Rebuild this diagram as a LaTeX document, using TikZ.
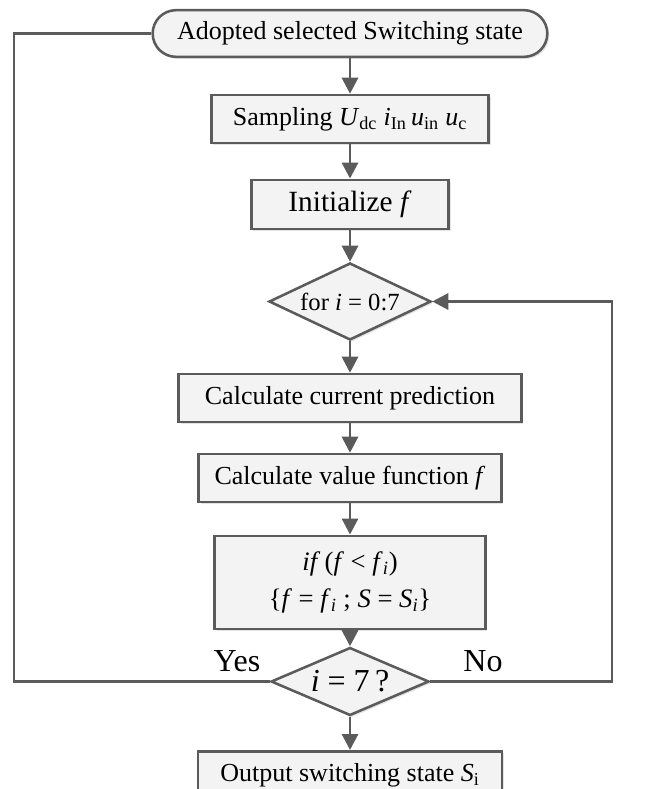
\documentclass[tikz,border=0pt]{standalone}
\usepackage{fontspec}
\setmainfont{Liberation Serif}
\usetikzlibrary{shapes.geometric,arrows.meta,shadows}
\definecolor{lc}{HTML}{5B5B5B}
\definecolor{bf}{HTML}{F3F3F3}
\begin{document}
\begin{tikzpicture}[x=0.75pt,y=-0.75pt,
  line/.style={draw=lc,line width=2.2pt},
  arr/.style={line,-{Triangle[width=12pt,length=12pt]}},
  boxst/.style={draw=lc,line width=1.9pt,fill=bf,inner sep=0pt,align=center,
    drop shadow={shadow xshift=1.5pt,shadow yshift=-1.5pt,opacity=0.22,fill=gray}},
  termst/.style={boxst,rounded corners=17.5pt},
  dmst/.style={boxst,shape=diamond},
  f20/.style={font=\fontsize{19.5}{23}\selectfont},
  lbl/.style={font=\fontsize{24}{28}\selectfont}]
\useasboundingbox (0,0) rectangle (648,789);
\clip (0,0) rectangle (648,789);

\node[termst,f20,minimum width=296pt,minimum height=35pt] (t) at (350,33.5) {Adopted selected Switching state};
\node[boxst,f20,minimum width=208pt,minimum height=36pt] (s) at (350,119)
  {Sampling \textit{U}\textsubscript{dc} \textit{i}\textsubscript{In}\,\textit{u}\textsubscript{in} \textit{u}\textsubscript{c}};
\node[boxst,font=\fontsize{22}{26}\selectfont,minimum width=148pt,minimum height=37pt] (i0) at (350,204.5) {Initialize \textit{f}};
\node[dmst,shape aspect=2.1,font=\fontsize{18.5}{22}\selectfont,minimum width=121.5pt,minimum height=57.75pt] (fd) at (350,301.5) {for \textit{i} = 0:7};
\node[boxst,f20,minimum width=257pt,minimum height=36pt] (cc) at (350,398) {Calculate current prediction};
\node[boxst,f20,minimum width=227pt,minimum height=36pt] (cv) at (350,478) {Calculate value function \textit{f}};
\node[boxst,font=\fontsize{20}{28}\selectfont,minimum width=203pt,minimum height=70pt] (ifb) at (350,582.5)
  {\textit{if}\,(\textit{f} < \textit{f}\textsubscript{\textit{i}})\\
   \{\textit{f} = \textit{f}\textsubscript{\textit{i}} ; \textit{S} = \textit{S}\textsubscript{\textit{i}}\}};
\node[dmst,shape aspect=2.3,lbl,minimum width=118.5pt,minimum height=51pt] (d7) at (350,681.5) {\textit{i} = 7\,?};
\node[boxst,f20,minimum width=228pt,minimum height=36pt,anchor=north] (out) at (350,750)
  {Output switching state \textit{S}\textsubscript{i}};

\node[lbl] (yes) at (237,661) {Yes};
\node[lbl] (no) at (483,661) {No};

\coordinate (rc) at (612,0);
\coordinate (lc) at (14,0);

\draw[arr] (t) -- (s);
\draw[arr] (s) -- (i0);
\draw[arr] (i0) -- (fd);
\draw[arr] (fd) -- (cc);
\draw[arr] (cc) -- (cv);
\draw[arr] (cv) -- (ifb);
\draw[arr] (ifb) -- (d7);
\draw[arr] (d7) -- (out);
\draw[arr] (d7.east) -| (rc |- fd.east) -- (fd.east);
\draw[line] (d7.west) -| (lc |- t.west) -- (t.west);
\end{tikzpicture}
\end{document}
